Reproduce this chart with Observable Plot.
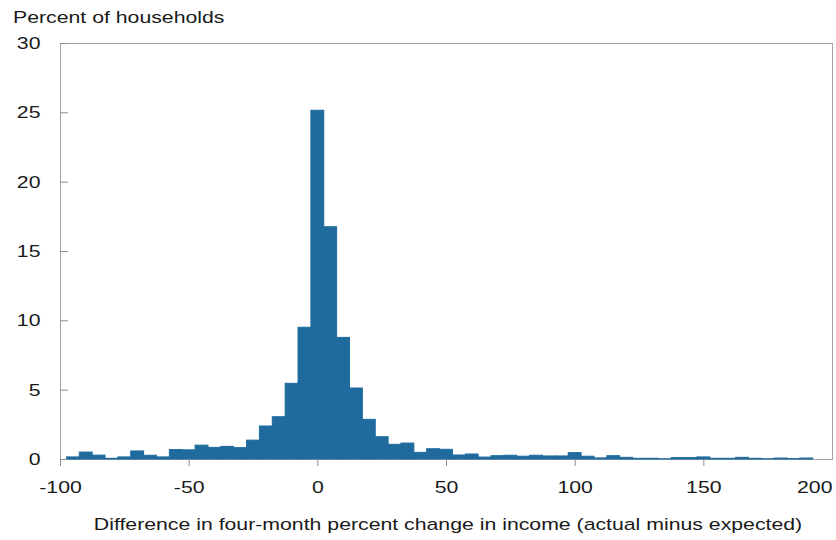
<!DOCTYPE html>
<html>
<head>
<meta charset="utf-8">
<script src="https://cdn.jsdelivr.net/npm/d3@7"></script>
<script src="https://cdn.jsdelivr.net/npm/@observablehq/plot@0.6"></script>
<style>
  html, body { margin: 0; padding: 0; background: #fff; }
  #wrap { position: relative; width: 836px; height: 540px; font-family: "Liberation Sans", Arial, sans-serif; color: #1a1a1a; }
  .lbl { position: absolute; font-size: 17px; line-height: 20px; white-space: nowrap; }
  #title { left: 13px; top: 8px; transform: scaleX(1.25); transform-origin: left center; }
  #xlabel { left: 448px; top: 515px; transform: translateX(-50%) scaleX(1.25); }
</style>
</head>
<body>
<div id="wrap">
  <div id="chart"></div>
  <div id="title" class="lbl">Percent of households</div>
  <div id="xlabel" class="lbl">Difference in four-month percent change in income (actual minus expected)</div>
</div>
<script>
// Bin centers (bin width 5)
const binCenters = [-95, -90, -85, -80, -75, -70, -65, -60, -55, -50, -45, -40, -35, -30, -25, -20, -15, -10, -5, 0,
  5, 10, 15, 20, 25, 30, 35, 40, 45, 50, 55, 60, 65, 70, 75, 80, 85, 90, 95, 100,
  105, 110, 115, 120, 125, 130, 135, 140, 145, 150, 155, 160, 165, 170, 175, 180, 185, 190];
const binWidth = 5;
// Percent of households in each bin
const shares = [0.15, 0.5, 0.28, 0.05, 0.15, 0.58, 0.27, 0.15, 0.68, 0.66, 1.0, 0.84, 0.91, 0.82, 1.36, 2.38, 3.05, 5.46, 9.5, 25.15,
  16.75, 8.77, 5.12, 2.86, 1.61, 1.06, 1.15, 0.48, 0.74, 0.7, 0.29, 0.36, 0.14, 0.24, 0.27, 0.2, 0.27, 0.22, 0.22, 0.46,
  0.2, 0.08, 0.24, 0.12, 0.05, 0.05, 0.02, 0.1, 0.1, 0.15, 0.05, 0.05, 0.12, 0.05, 0.02, 0.07, 0.03, 0.07];
const xTicks = [-100, -50, 0, 50, 100, 150];
const xTickLast = [200];
const yTicks = [0, 5, 10, 15, 20, 25, 30];

const data = binCenters.map((c, i) => ({x1: c - binWidth / 2, x2: c + binWidth / 2, y: shares[i]}));
const barColor = "#1f6b9e";
const fmt = d => String(d);

const chart = Plot.plot({
  width: 836,
  height: 540,
  marginLeft: 60,
  marginRight: 4,
  marginTop: 43,
  marginBottom: 81,
  style: {fontFamily: "'Liberation Sans', Arial, sans-serif", fontSize: "17px", color: "#1a1a1a", background: "#fff"},
  x: {domain: [-100, 200]},
  y: {domain: [0, 30]},
  marks: [
    Plot.frame({stroke: "#a3a3a3"}),
    Plot.rectY(data, {x1: "x1", x2: "x2", y: "y", fill: barColor, stroke: barColor, strokeWidth: 1}),
    Plot.axisY(yTicks, {tickSize: -8, tickPadding: 28, label: null, tickFormat: fmt, stroke: "#8c8c8c", fill: "#1a1a1a"}),
    Plot.axisX(xTicks, {tickSize: 7, tickPadding: 14, label: null, tickFormat: fmt, stroke: "#8c8c8c", fill: "#1a1a1a"}),
    Plot.axisX(xTickLast, {tickSize: 0, tickPadding: 21, label: null, tickFormat: fmt, textAnchor: "end", fill: "#1a1a1a"})
  ]
});
document.getElementById("chart").appendChild(chart);

// Widen tick label glyphs horizontally to match the reference's stretched text
chart.querySelectorAll("text").forEach(t => {
  const x = +(t.getAttribute("x") || 0);
  const tr = t.getAttribute("transform") || "";
  t.setAttribute("transform", `${tr} translate(${x},0) scale(1.25,1) translate(${-x},0)`);
});
</script>
</body>
</html>
